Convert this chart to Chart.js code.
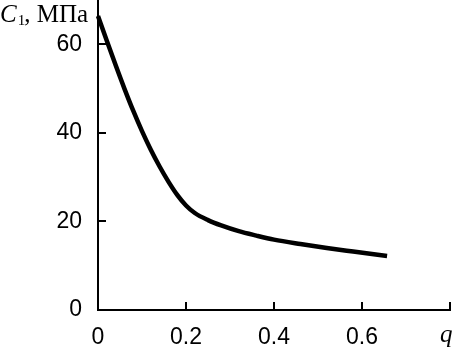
<!DOCTYPE html>
<html>
<head>
<meta charset="utf-8">
<script src="https://cdn.jsdelivr.net/npm/chart.js@4/dist/chart.umd.min.js"></script>
<style>
  html, body { margin: 0; padding: 0; background: #fff; }
  #wrap { width: 453px; height: 353px; position: relative; }
</style>
</head>
<body>
<div id="wrap"><canvas id="grafico"></canvas></div>
<script>
const qValues = [0, 0.02, 0.04, 0.06, 0.08, 0.10, 0.12, 0.14, 0.16, 0.18, 0.20, 0.22, 0.25, 0.28, 0.32, 0.36, 0.40, 0.46, 0.52, 0.58, 0.657]
const cValues = [66.4, 60.8, 55.3, 50.0, 45.0, 40.4, 36.2, 32.4, 29.0, 26.0, 23.6, 21.9, 20.3, 19.1, 17.8, 16.8, 15.9, 14.9, 14.0, 13.2, 12.2]

const xTicks = [0, 0.2, 0.4, 0.6, 0.8]
const xTickLabels = ["0", "0.2", "0.4", "0.6", ""]
const yTicks = [0, 20, 40, 60]
const yTickLabels = ["0", "20", "40", "60"]

const puntos = qValues.map((q, i) => ({ x: q, y: cValues[i] }))

const sinPadding = s => {
  s.paddingTop = 0
  s.paddingBottom = 0
  s.paddingLeft = 0
  s.paddingRight = 0
}

// inward tick marks + axis titles
const extras = {
  id: "extras",
  afterDraw(chart) {
    const ctx = chart.ctx
    const xs = chart.scales.x
    const ys = chart.scales.y
    const area = chart.chartArea
    ctx.save()
    ctx.strokeStyle = "#000"
    ctx.lineWidth = 2
    ctx.beginPath()
    xTicks.forEach(v => {
      const px = Math.round(xs.getPixelForValue(v))
      ctx.moveTo(px, area.bottom)
      ctx.lineTo(px, area.bottom - 8)
    })
    yTicks.forEach(v => {
      const py = Math.round(ys.getPixelForValue(v))
      ctx.moveTo(area.left, py)
      ctx.lineTo(area.left + 8, py)
    })
    ctx.stroke()

    ctx.fillStyle = "#000"
    ctx.textBaseline = "alphabetic"
    ctx.textAlign = "left"
    let x = 0
    ctx.font = 'italic 25px "Liberation Serif"'
    ctx.fillText("C", x, 22)
    x += ctx.measureText("C").width + 1
    ctx.font = '15px "Liberation Serif"'
    ctx.fillText("1", x, 25)
    x += ctx.measureText("1").width - 1
    ctx.font = '25px "Liberation Serif"'
    ctx.fillText(", МПа", x, 22)

    ctx.font = 'italic 25px "Liberation Serif"'
    ctx.fillText("q", 440, 342)
    ctx.restore()
  }
}

const config = {
  type: "line",
  data: {
    datasets: [{
      data: puntos,
      borderColor: "#000",
      borderWidth: 4.5,
      pointRadius: 0,
      fill: false,
      cubicInterpolationMode: "monotone",
      clip: false
    }]
  },
  options: {
    responsive: true,
    maintainAspectRatio: false,
    animation: false,
    layout: { padding: { left: 0, right: 3, top: 0, bottom: 0 } },
    plugins: { legend: { display: false }, tooltip: { enabled: false } },
    scales: {
      x: {
        type: "linear",
        min: 0,
        max: 0.8,
        afterBuildTicks: s => { s.ticks = xTicks.map(v => ({ value: v })) },
        afterFit: s => { s.height = 43; sinPadding(s) },
        grid: { display: true, drawOnChartArea: false, drawTicks: false },
        border: { color: "#000", width: 2 },
        ticks: {
          color: "#000",
          padding: 14,
          maxRotation: 0,
          font: { family: "Liberation Sans", size: 23 },
          callback: (v, i) => xTickLabels[i]
        }
      },
      y: {
        type: "linear",
        min: 0,
        max: 70,
        afterBuildTicks: s => { s.ticks = yTicks.map(v => ({ value: v })) },
        afterFit: s => { s.width = 98; sinPadding(s) },
        grid: { display: true, drawOnChartArea: false, drawTicks: false },
        border: { color: "#000", width: 2 },
        ticks: {
          color: "#000",
          padding: 16,
          font: { family: "Liberation Sans", size: 23 },
          callback: (v, i) => yTickLabels[i]
        }
      }
    }
  },
  plugins: [extras]
}

const grafico = new Chart(document.getElementById("grafico"), config)
</script>
</body>
</html>
